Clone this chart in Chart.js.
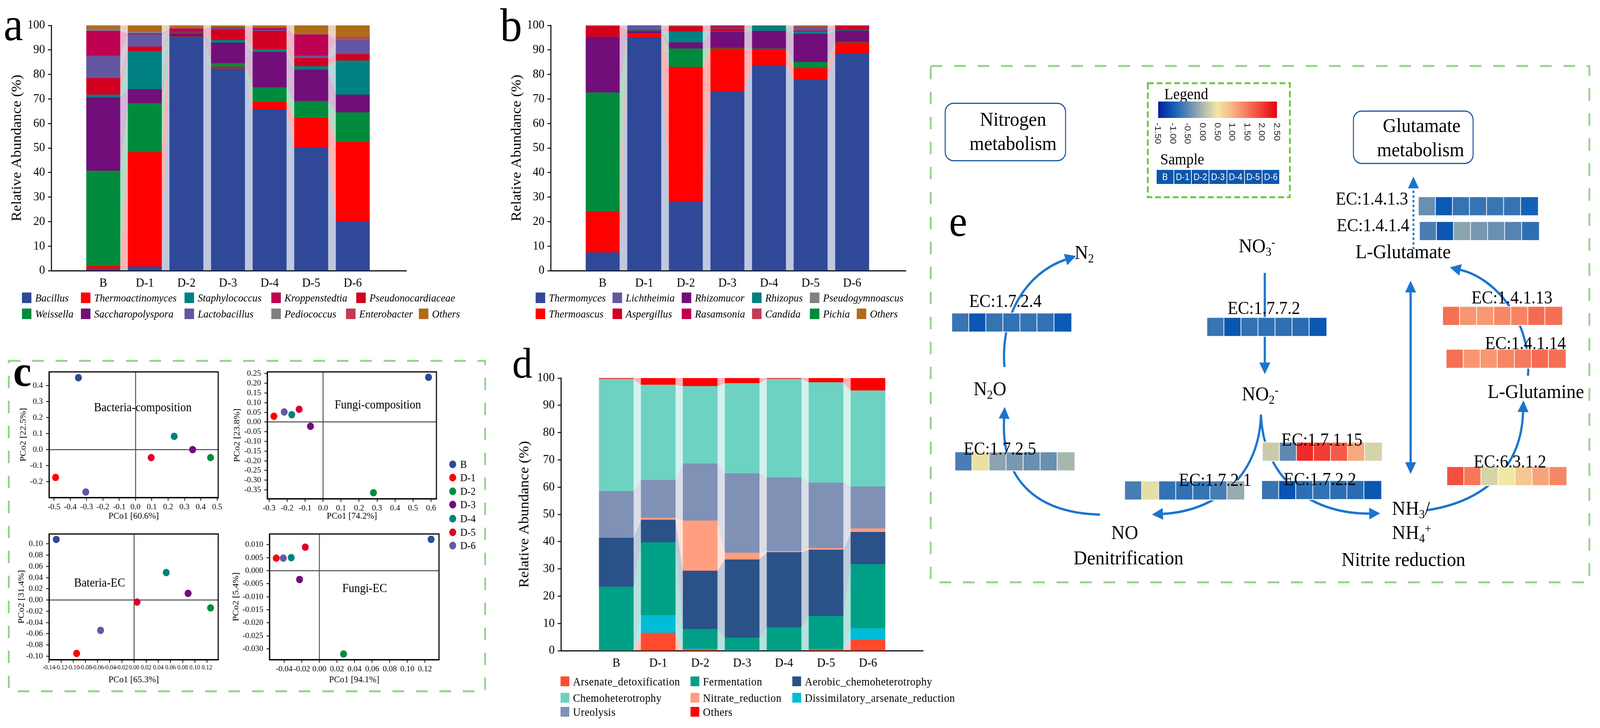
<!DOCTYPE html>
<html>
<head>
<meta charset="utf-8">
<title>Microbial composition, PCoA and nitrogen metabolism</title>
<script src="https://cdn.jsdelivr.net/npm/chart.js@4.4.1/dist/chart.umd.min.js"></script>
<style>
  html, body { margin: 0; padding: 0; background: #fff; overflow: hidden; }
  #page { position: relative; width: 4370px; height: 1864px; overflow: hidden; transform-origin: 0 0;
          font-family: "Liberation Serif", "Times New Roman", serif; color: #000; }
  #page canvas { position: absolute; }
  .t { position: absolute; white-space: nowrap; line-height: 1; }
  .sw { position: absolute; }
  .sub { position: relative; top: 0.26em; font-size: 0.62em; }
  .sup { position: relative; top: -0.52em; font-size: 0.62em; }
  svg.deco { position: absolute; left: 0; top: 0; }
</style>
</head>
<body>
<div id="page">
  <svg class="deco" width="4370" height="1864">
    <rect x="24" y="924" width="1301" height="846" fill="none" stroke="#93d48a" stroke-width="5" stroke-dasharray="32 32"/>
    <rect x="2542" y="169" width="1799" height="1322" fill="none" stroke="#93d48a" stroke-width="5" stroke-dasharray="32 32"/>
    <rect x="3135" y="213" width="388" height="292" fill="none" stroke="#6acb3a" stroke-width="5" stroke-dasharray="16 8"/>
  </svg>
  <canvas id="chartE" width="1800" height="1323" style="left:2542px;top:169px"></canvas>
  <canvas id="chartA" width="1130" height="760" style="left:0;top:0"></canvas>
  <canvas id="chartB" width="1130" height="760" style="left:1364px;top:0"></canvas>
  <canvas id="chartD" width="1150" height="830" style="left:1392px;top:900px"></canvas>
  <canvas id="pcoa1" width="600" height="420" style="left:20px;top:930px"></canvas>
  <canvas id="pcoa2" width="600" height="420" style="left:620px;top:930px"></canvas>
  <canvas id="pcoa3" width="600" height="420" style="left:20px;top:1345px"></canvas>
  <canvas id="pcoa4" width="600" height="420" style="left:620px;top:1345px"></canvas>
</div>
<script>
// ---------- data ----------
const samples = ['B', 'D-1', 'D-2', 'D-3', 'D-4', 'D-5', 'D-6'];

// a: bacterial genera (%)
const bacillus           = [0.8, 1.6, 95.0, 82.4, 65.7, 50.2, 20.0];
const thermoactinomyces  = [1.1, 46.7, 0.3, 0.7, 3.0, 12.1, 32.4];
const weissella          = [38.8, 19.9, 0.1, 1.5, 6.0, 6.8, 12.1];
const saccharopolyspora  = [29.9, 5.7, 1.2, 8.3, 14.4, 12.8, 7.2];
const staphylococcus     = [1.1, 15.4, 0.4, 1.1, 1.1, 1.4, 13.9];
const pseudonocardiaceae = [6.8, 2.0, 0.4, 4.3, 7.5, 3.4, 2.7];
const lactobacillus      = [9.1, 5.0, 0.1, 0.5, 0.5, 0.9, 5.7];
const kroppenstedtia     = [10.1, 0.4, 1.2, 0.3, 0.7, 8.7, 0.1];
const pediococcus        = [0.9, 0.8, 0.1, 0.1, 0.1, 0.3, 0.3];
const enterobacter       = [0.1, 0.1, 0.0, 0.0, 0.0, 0.0, 0.8];
const bacteriaOthers     = [1.3, 2.4, 1.2, 0.8, 1.0, 3.4, 4.8];

// b: fungal genera (%)
const thermomyces      = [7.4, 95.0, 28.0, 73.0, 83.5, 78.0, 88.5];
const thermoascus      = [16.7, 1.6, 55.0, 17.5, 6.8, 4.5, 4.5];
const pichia           = [48.5, 0.2, 7.5, 0.3, 0.2, 2.5, 0.2];
const rhizomucor       = [22.6, 0.8, 2.5, 6.5, 7.2, 11.5, 4.6];
const rhizopus         = [0.0, 0.3, 4.5, 0.3, 2.0, 1.0, 0.3];
const aspergillus      = [4.6, 0.2, 2.0, 1.0, 0.1, 0.3, 1.5];
const lichtheimia      = [0.0, 1.7, 0.0, 0.3, 0.0, 1.5, 0.0];
const rasamsonia       = [0.0, 0.1, 0.0, 1.0, 0.0, 0.1, 0.3];
const candida          = [0.0, 0.0, 0.0, 0.1, 0.0, 0.0, 0.0];
const pseudogymnoascus = [0.0, 0.0, 0.0, 0.0, 0.0, 0.0, 0.0];
const fungiOthers      = [0.2, 0.1, 0.5, 0.0, 0.2, 0.6, 0.1];

// d: FAPROTAX functions (%)
const arsenateDetox   = [0.0, 6.5, 0.4, 0.0, 0.0, 0.3, 4.0];
const dissimArsenate  = [0.0, 6.5, 0.2, 0.2, 0.0, 0.2, 4.2];
const fermentation    = [23.4, 26.7, 7.3, 4.5, 8.5, 12.2, 23.5];
const aerobicChemo    = [18.0, 8.3, 21.4, 28.7, 27.6, 24.3, 11.8];
const nitrateRed      = [0.0, 0.7, 18.4, 2.5, 0.4, 0.6, 1.3];
const ureolysis       = [17.1, 13.9, 20.9, 29.1, 27.0, 24.0, 15.4];
const chemoheterotrophy = [41.2, 34.9, 28.4, 33.1, 36.2, 36.8, 35.2];
const functionOthers  = [0.3, 2.5, 3.0, 1.9, 0.3, 1.6, 4.6];

// c: PCoA coordinates (B, D-1 ... D-6)
const bacCompX = [-0.35, -0.49, 0.46, 0.35, 0.237, 0.096, -0.305];
const bacCompY = [0.45, -0.174, -0.05, 0.0, 0.083, -0.05, -0.265];
const fungCompX = [0.586, -0.273, 0.28, -0.07, -0.174, -0.133, -0.216];
const fungCompY = [0.231, 0.03, -0.365, -0.022, 0.038, 0.066, 0.052];
const bacEcX = [-0.128, -0.0945, 0.126, 0.089, 0.053, 0.005, -0.055];
const bacEcY = [0.108, -0.095, -0.014, 0.012, 0.049, -0.0035, -0.054];
const fungEcX = [0.127, -0.049, 0.0275, -0.0225, -0.032, -0.016, -0.041];
const fungEcY = [0.012, 0.0048, -0.032, -0.0034, 0.005, 0.009, 0.0048];

const bacCompXTicks = [-0.5, -0.4, -0.3, -0.2, -0.1, 0, 0.1, 0.2, 0.3, 0.4, 0.5];
const bacCompYTicks = [-0.2, -0.1, 0, 0.1, 0.2, 0.3, 0.4];
const fungCompXTicks = [-0.3, -0.2, -0.1, 0, 0.1, 0.2, 0.3, 0.4, 0.5, 0.6];
const fungCompYTicks = [-0.35, -0.3, -0.25, -0.2, -0.15, -0.1, -0.05, 0, 0.05, 0.1, 0.15, 0.2, 0.25];
const bacEcXTicks = [-0.14, -0.12, -0.1, -0.08, -0.06, -0.04, -0.02, 0, 0.02, 0.04, 0.06, 0.08, 0.1, 0.12];
const bacEcYTicks = [-0.1, -0.08, -0.06, -0.04, -0.02, 0, 0.02, 0.04, 0.06, 0.08, 0.1];
const fungEcXTicks = [-0.04, -0.02, 0, 0.02, 0.04, 0.06, 0.08, 0.1, 0.12];
const fungEcYTicks = [-0.03, -0.025, -0.02, -0.015, -0.01, -0.005, 0, 0.005, 0.01];

// e: KEGG enzyme heat values (z-score, B ... D-6)
const ec1724  = [-0.72, -1.05, -0.74, -0.76, -0.74, -0.76, -1.02];
const ec1772  = [-0.72, -1.05, -0.76, -0.78, -0.78, -0.82, -1.04];
const ec1725  = [-0.62, 0.44, -0.21, -0.33, -0.42, -0.42, -0.02];
const ec1721  = [-0.62, 0.41, -0.76, -0.76, -0.74, -0.62, -0.13];
const ec17115 = [0.2, -0.48, 2.15, 2.0, 1.74, 1.09, 0.29];
const ec1722  = [-0.74, -1.08, -0.8, -0.76, -0.8, -0.82, -1.04];
const ec6312  = [1.84, 1.5, 0.29, 0.5, 0.79, 1.12, 1.36];
const ec14114 = [1.57, 1.24, 1.22, 1.38, 1.48, 1.62, 1.58];
const ec14113 = [1.57, 1.24, 1.22, 1.36, 1.4, 1.62, 1.58];
const ec1413  = [-0.42, -1.03, -0.74, -0.74, -0.72, -0.74, -0.95];
const ec1414  = [-0.62, -1.05, -0.21, -0.33, -0.42, -0.55, -0.79];
const heatLegendTicks = [-1.5, -1.0, -0.5, 0, 0.5, 1.0, 1.5, 2.0, 2.5];

// ---------- styles ----------
const serif = '"Liberation Serif", "Times New Roman", serif';
const sans = '"Liberation Sans", Arial, sans-serif';
Chart.defaults.font.family = serif;
Chart.defaults.color = '#000';

const bacteriaSeries = [bacillus, thermoactinomyces, weissella, saccharopolyspora, staphylococcus,
  pseudonocardiaceae, lactobacillus, kroppenstedtia, pediococcus, enterobacter, bacteriaOthers];
const bacteriaColors = ['#2f4898', '#ff0000', '#008b3c', '#720e79', '#008080',
  '#d20020', '#6257a0', '#be0050', '#808080', '#c43a52', '#b06c1a'];
const fungiSeries = [thermomyces, thermoascus, pichia, rhizomucor, rhizopus,
  aspergillus, lichtheimia, rasamsonia, candida, pseudogymnoascus, fungiOthers];
const fungiColors = ['#2f4898', '#ff0000', '#008b3c', '#720e79', '#008080',
  '#d20020', '#6257a0', '#be0050', '#c43a52', '#808080', '#b06c1a'];
const functionSeries = [arsenateDetox, dissimArsenate, fermentation, aerobicChemo,
  nitrateRed, ureolysis, chemoheterotrophy, functionOthers];
const functionColors = ['#ff4a2f', '#00bcd6', '#00a087', '#2b5189', '#ff9e80', '#8091b6', '#6dd2c2', '#ff0000'];
const sampleColors = ['#2e4a9a', '#ff0000', '#008c3e', '#6e0e7a', '#00827f', '#dc0028', '#6557a3'];

const heatStops = [[-1.5, '#0a1a9c'], [-1.0, '#0b5db5'], [-0.5, '#5d87b2'], [0, '#abb9ae'],
  [0.5, '#f1e7a3'], [1.0, '#f8b284'], [1.5, '#f6785b'], [2.0, '#f13d32'], [2.5, '#e50012']];

function hex(c) { return [1, 3, 5].map(i => parseInt(c.slice(i, i + 2), 16)); }
function heatColor(v) {
  for (let i = 0; i < heatStops.length - 1; i++) {
    const [v0, c0] = heatStops[i], [v1, c1] = heatStops[i + 1];
    if (v <= v1 || i === heatStops.length - 2) {
      const t = Math.max(0, Math.min(1, (v - v0) / (v1 - v0)));
      const a = hex(c0), b = hex(c1);
      return 'rgb(' + a.map((x, k) => Math.round(x + (b[k] - x) * t)).join(',') + ')';
    }
  }
}

// ---------- plugins ----------
const flowBands = {
  id: 'flowBands',
  beforeDatasetsDraw(chart) {
    const ctx = chart.ctx;
    chart.data.datasets.forEach((ds, di) => {
      const bars = chart.getDatasetMeta(di).data;
      ctx.save();
      ctx.fillStyle = ds.backgroundColor;
      ctx.globalAlpha = 0.3;
      for (let i = 0; i < bars.length - 1; i++) {
        const a = bars[i], b = bars[i + 1];
        if (Math.abs(a.base - a.y) < 0.01 && Math.abs(b.base - b.y) < 0.01) continue;
        const ax = a.x + a.width / 2, bx = b.x - b.width / 2;
        ctx.beginPath();
        ctx.moveTo(ax, a.y);
        ctx.lineTo(bx, b.y);
        ctx.lineTo(bx, b.base);
        ctx.lineTo(ax, a.base);
        ctx.closePath();
        ctx.fill();
      }
      ctx.restore();
    });
  }
};

const frame = {
  id: 'frame',
  afterDraw(chart) {
    const {ctx, chartArea: a} = chart;
    ctx.save();
    ctx.strokeStyle = '#000';
    ctx.lineWidth = 3;
    ctx.strokeRect(a.left, a.top, a.right - a.left, a.bottom - a.top);
    ctx.restore();
  }
};

// ---------- stacked bars (a, b, d) ----------
function stackedBar(id, series, colors, L) {
  return new Chart(document.getElementById(id), {
    type: 'bar',
    data: {
      datasets: series.map((vals, k) => ({
        data: vals.map((v, i) => ({x: i, y: v})),
        backgroundColor: colors[k],
        stack: 'all',
        barThickness: L.bar,
        borderWidth: 0
      }))
    },
    options: {
      responsive: false, animation: false, devicePixelRatio: 1, events: [],
      layout: {padding: {top: L.top, right: L.right, left: 0, bottom: 0}},
      plugins: {legend: {display: false}, tooltip: {enabled: false}},
      scales: {
        x: {
          type: 'linear', min: L.xMin, max: L.xMax,
          afterBuildTicks: s => { s.ticks = samples.map((_, i) => ({value: i})); },
          afterFit: s => { s.height = L.xh; },
          ticks: {callback: v => samples[v], font: {size: 32}, color: '#000', padding: 13, autoSkip: false, maxRotation: 0},
          grid: {display: false, drawTicks: false},
          border: {display: true, color: '#111', width: 3}
        },
        y: {
          min: 0, max: 100, stacked: true,
          afterFit: s => { s.width = 140; },
          ticks: {stepSize: 10, font: {size: 32}, color: '#000', padding: 8},
          grid: {drawOnChartArea: false, tickLength: 9, tickColor: '#111', tickWidth: 2.5},
          border: {color: '#111', width: 3},
          title: {display: true, text: 'Relative Abundance (%)', font: {size: 38}, color: '#000',
                  padding: {top: L.titlePad, bottom: 0}}
        }
      }
    },
    plugins: [flowBands]
  });
}

stackedBar('chartA', bacteriaSeries, bacteriaColors,
  {bar: 92, top: 65, right: 20, xh: 67, xMin: -0.64, xMax: 6.68, titlePad: 24});
stackedBar('chartB', fungiSeries, fungiColors,
  {bar: 92, top: 65, right: 20, xh: 67, xMin: -0.64, xMax: 6.68, titlePad: 25});
stackedBar('chartD', functionSeries, functionColors,
  {bar: 94, top: 68, right: 21, xh: 64, xMin: -0.703, xMax: 6.696, titlePad: 18});

// ---------- PCoA scatter (c) ----------
function axisOpts(min, max, tickVals, dec, fontSize, pad, title, titlePad, fit) {
  return {
    type: 'linear', min, max,
    afterBuildTicks: s => { s.ticks = tickVals.map(v => ({value: v})); },
    afterFit: fit,
    ticks: {callback: v => v.toFixed(dec), font: {size: fontSize}, color: '#000', padding: pad, autoSkip: false, maxRotation: 0},
    grid: {color: c => (c.tick && c.tick.value === 0 ? '#4a4a4a' : 'rgba(0,0,0,0)'), lineWidth: 2.5,
           tickLength: 8, tickColor: '#000', tickWidth: 2},
    border: {display: true, color: '#000', width: 3},
    title: {display: true, text: title, font: {size: 24}, color: '#000', padding: titlePad}
  };
}
function pcoa(id, xs, ys, L) {
  return new Chart(document.getElementById(id), {
    type: 'scatter',
    data: {datasets: [{data: xs.map((x, i) => ({x, y: ys[i]})), backgroundColor: sampleColors,
                       pointRadius: 9.5, pointBorderWidth: 0}]},
    options: {
      responsive: false, animation: false, devicePixelRatio: 1, events: [],
      layout: {padding: {top: L.top, right: L.right, left: 0, bottom: 0}},
      plugins: {legend: {display: false}, tooltip: {enabled: false}},
      scales: {
        x: axisOpts(L.xMin, L.xMax, L.xTicks, L.xDec, L.xFont, 3, L.xTitle, {top: 0, bottom: L.xTitlePad}, s => { s.height = L.xh; }),
        y: axisOpts(L.yMin, L.yMax, L.yTicks, L.yDec, 22, 9, L.yTitle, {top: L.yTitlePad, bottom: 0}, s => { s.width = L.yw; })
      }
    },
    plugins: [frame]
  });
}

pcoa('pcoa1', bacCompX, bacCompY, {top: 14, right: 24, xh: 76, yw: 114,
  xMin: -0.53, xMax: 0.507, xTicks: bacCompXTicks, xDec: 1, xFont: 22, xTitle: 'PCo1 [60.6%]', xTitlePad: 13.6,
  yMin: -0.30, yMax: 0.486, yTicks: bacCompYTicks, yDec: 1, yTitle: 'PCo2 [22.5%]', yTitlePad: 29.6});
pcoa('pcoa2', fungCompX, fungCompY, {top: 18, right: 28, xh: 73, yw: 110,
  xMin: -0.31, xMax: 0.63, xTicks: fungCompXTicks, xDec: 1, xFont: 22, xTitle: 'PCo1 [74.2%]', xTitlePad: 13.6,
  yMin: -0.396, yMax: 0.259, yTicks: fungCompYTicks, yDec: 2, yTitle: 'PCo2 [23.8%]', yTitlePad: 13.6});
pcoa('pcoa3', bacEcX, bacEcY, {top: 15, right: 24, xh: 76, yw: 114,
  xMin: -0.1398, xMax: 0.1386, xTicks: bacEcXTicks, xDec: 2, xFont: 16.5, xTitle: 'PCo1 [65.3%]', xTitlePad: 9.6,
  yMin: -0.1061, yMax: 0.1177, yTicks: bacEcYTicks, yDec: 2, yTitle: 'PCo2 [31.4%]', yTitlePad: 24.6});
pcoa('pcoa4', fungEcX, fungEcY, {top: 15, right: 21, xh: 76, yw: 116,
  xMin: -0.0567, xMax: 0.136, xTicks: fungEcXTicks, xDec: 2, xFont: 22, xTitle: 'PCo1 [94.1%]', xTitlePad: 9.6,
  yMin: -0.03416, yMax: 0.01408, yTicks: fungEcYTicks, yDec: 3, yTitle: 'PCo2 [5.4%]', yTitlePad: 10.6});

// ---------- pathway heat map (e) ----------
const cellW = 48.5, cellH = 49;
const heatRows = [
  {values: ec1724, x: 2565, y: 801},
  {values: ec1772, x: 3291, y: 813},
  {values: ec1725, x: 2574, y: 1177},
  {values: ec1721, x: 3057, y: 1256},
  {values: ec17115, x: 3449, y: 1151},
  {values: ec1722, x: 3447, y: 1255},
  {values: ec6312, x: 3974, y: 1217},
  {values: ec14114, x: 3972, y: 899},
  {values: ec14113, x: 3962, y: 783},
  {values: ec1413, x: 3893, y: 486},
  {values: ec1414, x: 3896, y: 553}
];
const arrowBlue = '#1a74cf';
const arrows = [
  {pts: [[3455, 691], [3455, 934]], end: true},
  {pts: [[3444, 1075], [3440, 1230], [3330, 1335], [3165, 1344]], end: true},
  {pts: [[3444, 1075], [3452, 1260], [3600, 1345], [3752, 1343]], end: true},
  {pts: [[2986, 1346], [2780, 1340], [2705, 1230], [2713, 1086]], end: true},
  {pts: [[2714, 946], [2702, 800], [2780, 690], [2888, 655]], end: true},
  {pts: [[3917, 1334], [4080, 1310], [4185, 1220], [4190, 1068]], end: true},
  {pts: [[4204, 970], [4215, 820], [4110, 705], [4012, 683]], end: true},
  {pts: [[3870, 744], [3870, 1204]], start: true, end: true},
  {pts: [[3878, 627], [3878, 462]], end: true, dash: [6, 6], width: 5}
];

const pathway = {
  id: 'pathway',
  beforeDatasetsDraw(chart) {
    const {ctx, scales: {x, y}} = chart;
    const P = p => [x.getPixelForValue(p[0]), y.getPixelForValue(p[1])];
    ctx.save();
    ctx.strokeStyle = arrowBlue;
    ctx.fillStyle = arrowBlue;
    function head(from, to) {
      const dx = to[0] - from[0], dy = to[1] - from[1], l = Math.hypot(dx, dy);
      const ux = dx / l, uy = dy / l;
      ctx.beginPath();
      ctx.moveTo(to[0] + ux * 30, to[1] + uy * 30);
      ctx.lineTo(to[0] - uy * 15, to[1] + ux * 15);
      ctx.lineTo(to[0] + uy * 15, to[1] - ux * 15);
      ctx.closePath();
      ctx.fill();
    }
    arrows.forEach(a => {
      const pts = a.pts.map(P);
      ctx.lineWidth = a.width || 6;
      ctx.setLineDash(a.dash || []);
      ctx.beginPath();
      ctx.moveTo(pts[0][0], pts[0][1]);
      if (pts.length === 4) ctx.bezierCurveTo(pts[1][0], pts[1][1], pts[2][0], pts[2][1], pts[3][0], pts[3][1]);
      else ctx.lineTo(pts[1][0], pts[1][1]);
      ctx.stroke();
      ctx.setLineDash([]);
      if (a.end) head(pts[pts.length - 2], pts[pts.length - 1]);
      if (a.start) head(pts[1], pts[0]);
    });
    ctx.restore();
  }
};

new Chart(document.getElementById('chartE'), {
  type: 'scatter',
  data: {
    datasets: heatRows.map(r => ({
      data: r.values.map((v, i) => ({x: r.x + (i + 0.5) * cellW, y: r.y + cellH / 2})),
      backgroundColor: r.values.map(heatColor),
      borderColor: '#ffffff',
      borderWidth: 2,
      pointStyle: 'rect',
      pointRadius: cellW / Math.SQRT2
    }))
  },
  options: {
    responsive: false, animation: false, devicePixelRatio: 1, events: [],
    layout: {padding: 0},
    plugins: {legend: {display: false}, tooltip: {enabled: false}},
    scales: {
      x: {type: 'linear', display: false, min: 2542, max: 4342},
      y: {type: 'linear', display: false, min: 169, max: 1492, reverse: true}
    }
  },
  plugins: [pathway]
});

// ---------- text, legends ----------
const page = document.getElementById('page');
function label(html, x, base, size, o = {}) {
  const d = document.createElement('div');
  d.className = 't';
  d.innerHTML = html;
  d.style.fontSize = size + 'px';
  d.style.fontFamily = o.sans ? sans : serif;
  if (o.italic) d.style.fontStyle = 'italic';
  if (o.bold) d.style.fontWeight = 'bold';
  if (o.color) d.style.color = o.color;
  if (o.ls) d.style.letterSpacing = o.ls + 'px';
  d.style.top = (base - (o.sans ? 0.8465 : 0.8375) * size) + 'px';
  d.style.left = x + 'px';
  if (o.align === 'center') d.style.transform = 'translateX(-50%)';
  page.appendChild(d);
  return d;
}
function box(x, y, w, h, css) {
  const d = document.createElement('div');
  d.className = 'sw';
  Object.assign(d.style, {left: x + 'px', top: y + 'px', width: w + 'px', height: h + 'px'}, css);
  page.appendChild(d);
  return d;
}

// panel letters
label('a', 10, 103, 120);
label('b', 1366, 105, 120);
label('c', 36, 988, 112, {bold: true});
label('d', 1399, 967, 110);
label('e', 2592, 604, 112);

// legend a
const legendA = [
  ['Bacillus', 0, 60, 0], ['Thermoactinomyces', 1, 221, 0], ['Staphylococcus', 4, 504, 0],
  ['Kroppenstedtia', 7, 741, 0], ['Pseudonocardiaceae', 5, 973, 0],
  ['Weissella', 2, 60, 1], ['Saccharopolyspora', 3, 221, 1], ['Lactobacillus', 6, 504, 1],
  ['Pediococcus', 8, 741, 1], ['Enterobacter', 9, 945, 1], ['Others', 10, 1144, 1]
];
const legendRowTop = [749, 790];
legendA.forEach(([name, k, x, row]) => {
  box(x, legendRowTop[row], 26, 27, {background: bacteriaColors[k]});
  label(name, x + 36, legendRowTop[row] + 23, 28, {italic: true});
});

// legend b
const legendB = [
  ['Thermomyces', 0, 1463, 0], ['Lichtheimia', 6, 1673, 0], ['Rhizomucor', 3, 1862, 0],
  ['Rhizopus', 4, 2054, 0], ['Pseudogymnoascus', 9, 2212, 0],
  ['Thermoascus', 1, 1463, 1], ['Aspergillus', 5, 1673, 1], ['Rasamsonia', 7, 1862, 1],
  ['Candida', 8, 2054, 1], ['Pichia', 2, 2212, 1], ['Others', 10, 2340, 1]
];
legendB.forEach(([name, k, x, row]) => {
  box(x, legendRowTop[row], 26, 27, {background: fungiColors[k]});
  label(name, x + 36, legendRowTop[row] + 23, 28, {italic: true});
});

// legend d
const legendD = [
  ['Arsenate_detoxification', 0, 1531, 0], ['Chemoheterotrophy', 6, 1531, 1], ['Ureolysis', 5, 1531, 2],
  ['Fermentation', 2, 1886, 0], ['Nitrate_reduction', 4, 1886, 1], ['Others', 7, 1886, 2],
  ['Aerobic_chemoheterotrophy', 3, 2164, 0], ['Dissimilatory_arsenate_reduction', 1, 2164, 1]
];
const legendDTop = [1732, 1774, 1810];
legendD.forEach(([name, k, x, row]) => {
  box(x, legendDTop[row], 24, 25, {background: functionColors[k]});
  label(name, x + 34, legendDTop[row] + 23, 29, {ls: 0.6});
});

// PCoA panel texts and legend
label('Bacteria-composition', 390, 1053, 31, {align: 'center'});
label('Fungi-composition', 1032, 1046, 31, {align: 'center'});
label('Bateria-EC', 272, 1502, 31, {align: 'center'});
label('Fungi-EC', 996, 1516, 31, {align: 'center'});
const pcoaLegendY = [1189, 1223, 1258, 1292, 1328, 1363, 1397];
samples.forEach((s, i) => {
  box(1226.5, pcoaLegendY[i] - 10, 19, 20, {background: sampleColors[i], borderRadius: '50%'});
  label(s, 1257, pcoaLegendY[i] + 10, 27);
});

// pathway boxes and labels
box(2580, 263, 332, 150, {border: '3px solid #1f5aa0', borderRadius: '24px', boxSizing: 'border-box'});
box(3695, 283, 330, 137, {border: '3px solid #1f5aa0', borderRadius: '24px', boxSizing: 'border-box'});
label('Nitrogen', 2767, 323, 51, {align: 'center'});
label('metabolism', 2767, 385, 51, {align: 'center'});
label('Glutamate', 3883, 339, 51, {align: 'center'});
label('metabolism', 3880, 401, 51, {align: 'center'});

const metabolites = [
  ['N<span class="sub">2</span>', 2935, 664],
  ['NO<span class="sub">3</span><span class="sup">-</span>', 3383, 647],
  ['NO<span class="sub">2</span><span class="sup">-</span>', 3392, 1026],
  ['N<span class="sub">2</span>O', 2659, 1013],
  ['NO', 3035, 1381],
  ['Denitrification', 2932, 1446],
  ['NH<span class="sub">3</span>/', 3802, 1319],
  ['NH<span class="sub">4</span><span class="sup">+</span>', 3802, 1381],
  ['Nitrite reduction', 3664, 1450],
  ['L-Glutamate', 3702, 662],
  ['L-Glutamine', 4063, 1020]
];
metabolites.forEach(([h, x, b]) => label(h, x, b, 51));

const enzymes = [
  ['EC:1.7.2.4', 2647, 787], ['EC:1.7.7.2', 3353, 805], ['EC:1.4.1.3', 3648, 525],
  ['EC:1.4.1.4', 3651, 593], ['EC:1.4.1.13', 4019, 778], ['EC:1.4.1.14', 4056, 895],
  ['EC:1.7.2.5', 2632, 1165], ['EC:1.7.2.1', 3220, 1245], ['EC:1.7.1.15', 3500, 1142],
  ['EC:1.7.2.2', 3506, 1243], ['EC:6.3.1.2', 4025, 1198]
];
enzymes.forEach(([h, x, b]) => label(h, x, b, 46));

// colour legend
label('Legend', 3180, 254, 40);
const gx0 = 3163, gx1 = 3488;
const gMin = heatStops[0][0], gMax = heatStops[heatStops.length - 1][0];
box(gx0, 260, gx1 - gx0, 42, {
  background: 'linear-gradient(to right,' + heatStops.map(([v, c]) =>
    c + ' ' + ((v - gMin) / (gMax - gMin) * 100).toFixed(1) + '%').join(',') + ')'
});
heatLegendTicks.forEach(v => {
  const xc = gx0 + (v - gMin) / (gMax - gMin) * (gx1 - gx0);
  const d = label(v.toFixed(2), xc + 12, 314 + 0.8465 * 24, 24, {sans: true, color: '#222'});
  d.style.transformOrigin = '0 0';
  d.style.transform = 'rotate(90deg)';
});
label('Sample', 3169, 421, 40);
samples.forEach((s, i) => {
  const w = (3496 - 3159) / 7;
  const c = box(3159 + i * w, 435, w - 2, 36, {background: '#0d56ac'});
  c.style.display = 'flex';
  c.style.alignItems = 'center';
  c.style.justifyContent = 'center';
  c.style.color = '#fff';
  c.style.fontFamily = sans;
  c.style.fontSize = '23px';
  c.textContent = s;
});

// the window may be narrower than the 4370x1864 figure: stretch it to fill the viewport
const sx = Math.min(1, window.innerWidth / 4370), sy = Math.min(1, window.innerHeight / 1864);
if (sx < 1 || sy < 1) page.style.transform = 'scale(' + sx + ',' + sy + ')';
</script>
</body>
</html>
